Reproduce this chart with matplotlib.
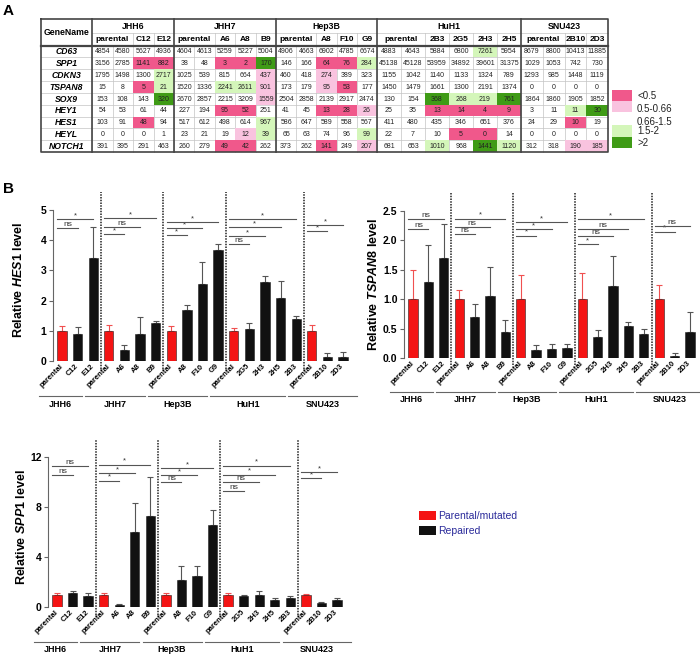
import matplotlib.pyplot as plt
import matplotlib.transforms as mtransforms
from matplotlib.patches import Rectangle, Patch
import numpy as np

plt.rcParams['font.family'] = ['Liberation Sans', 'DejaVu Sans']
plt.rcParams['mathtext.fontset'] = 'custom'
plt.rcParams['mathtext.it'] = 'Liberation Sans:italic:bold'
plt.rcParams['mathtext.rm'] = 'Liberation Sans:bold'

W, H = 700, 655

# ---------------- panel A: RNA-seq counts table ----------------
groups = ['JHH6', 'JHH7', 'Hep3B', 'HuH1', 'SNU423']
group_clones = [['parental', 'parental', 'C12', 'E12'],
                ['parental', 'parental', 'A6', 'A8', 'B9'],
                ['parental', 'parental', 'A8', 'F10', 'G9'],
                ['parental', 'parental', '2B3', '2G5', '2H3', '2H5'],
                ['parental', 'parental', '2B10', '2D3']]
genes = ['CD63', 'SPP1', 'CDKN3', 'TSPAN8', 'SOX9', 'HEY1', 'HES1', 'HEYL', 'NOTCH1']

cd63 = [4854, 4580, 5627, 4936, 4604, 4613, 5259, 5227, 5004, 4906, 4663, 6902, 4785, 6674,
        4883, 4643, 5884, 6800, 7261, 5954, 8679, 8800, 10413, 11885]
spp1 = [3156, 2785, 1141, 882, 38, 48, 3, 2, 170, 146, 166, 64, 76, 284,
        45138, 45128, 53959, 34892, 39601, 31375, 1029, 1053, 742, 730]
cdkn3 = [1795, 1498, 1300, 2717, 1025, 539, 815, 664, 437, 460, 418, 274, 389, 323,
         1155, 1042, 1140, 1133, 1324, 789, 1293, 985, 1448, 1119]
tspan8 = [15, 8, 5, 21, 1520, 1336, 2241, 2611, 901, 173, 179, 95, 53, 177,
          1450, 1479, 1661, 1300, 2191, 1374, 0, 0, 0, 0]
sox9 = [153, 108, 143, 320, 2670, 2857, 2215, 3209, 1559, 2504, 2858, 2139, 2917, 2474,
        130, 154, 368, 268, 219, 761, 1864, 1860, 1905, 1852]
hey1 = [54, 53, 61, 44, 227, 194, 95, 52, 251, 41, 45, 13, 28, 26,
        25, 35, 13, 14, 4, 9, 3, 11, 11, 30]
hes1 = [103, 91, 48, 94, 517, 612, 498, 614, 967, 586, 647, 589, 558, 567,
        411, 480, 435, 346, 651, 376, 24, 29, 10, 19]
heyl = [0, 0, 0, 1, 23, 21, 19, 12, 39, 65, 63, 74, 96, 99,
        22, 7, 10, 5, 0, 14, 0, 0, 0, 0]
notch1 = [391, 395, 291, 463, 260, 279, 49, 42, 262, 373, 262, 141, 249, 207,
          681, 653, 1010, 968, 1441, 1120, 312, 318, 190, 185]
counts = [cd63, spp1, cdkn3, tspan8, sox9, hey1, hes1, heyl, notch1]

# fold-change class per cell: a <0.5, b 0.5-0.66, . 0.66-1.5, c 1.5-2, d >2
fc_class = ['....' '.....' '.....' '....c.' '....',
            '..aa' '..aad' '..aac' '......' '....',
            '...c' '....b' '..b..' '......' '....',
            '..ac' '..ccb' '..ba.' '......' '....',
            '...d' '....b' '.....' '..dccd' '....',
            '....' '..aa.' '..aab' '..aaaa' '..cd',
            '..a.' '....c' '.....' '......' '..a.',
            '....' '...bc' '....c' '...aa.' '....',
            '....' '..aa.' '..a.b' '..c.dc' '..bb']
fc_labels = ['<0.5', '0.5-0.66', '0.66-1.5', '1.5-2', '>2']
fc_keys = ['a', 'b', '.', 'c', 'd']
fc_colors = {'a': '#f0588b', 'b': '#f9c3df', '.': '#ffffff', 'c': '#d4f6ba', 'd': '#3f9b16'}

# ---------------- panel B: qPCR ----------------
tick_labels = ['parental', 'C12', 'E12', 'parental', 'A6', 'A8', 'B9',
               'parental', 'A8', 'F10', 'G9', 'parental', '2G5', '2H3', '2H5', '2B3',
               'parental', '2B10', '2D3']
group_sizes = [3, 4, 4, 5, 3]

hes1_mean = [1.0, 0.88, 3.42, 1.0, 0.38, 0.9, 1.27, 1.0, 1.7, 2.55, 3.68,
             1.0, 1.05, 2.6, 2.1, 1.4, 1.0, 0.12, 0.14]
hes1_err = [0.16, 0.25, 1.02, 0.19, 0.14, 0.55, 0.07, 0.17, 0.17, 0.72, 0.19,
            0.1, 0.22, 0.23, 0.55, 0.1, 0.19, 0.14, 0.15]
hes1_sig = [(0, 1, 4.4, 'ns'), (0, 2, 4.7, '*'),
            (3, 4, 4.2, '*'), (3, 5, 4.45, 'ns'), (3, 6, 4.73, '*'),
            (7, 8, 4.17, '*'), (7, 9, 4.4, '*'), (7, 10, 4.6, '*'),
            (11, 12, 3.87, 'ns'), (11, 13, 4.14, '*'), (11, 14, 4.43, '*'), (11, 15, 4.7, '*'),
            (16, 17, 4.3, '*'), (16, 18, 4.5, '*')]

tspan8_mean = [1.0, 1.29, 1.7, 1.0, 0.69, 1.06, 0.45, 1.0, 0.13, 0.16, 0.17,
               1.0, 0.36, 1.23, 0.55, 0.41, 1.0, 0.04, 0.44]
tspan8_err = [0.5, 0.64, 0.58, 0.16, 0.23, 0.49, 0.2, 0.41, 0.09, 0.08, 0.07,
              0.44, 0.12, 0.5, 0.07, 0.09, 0.24, 0.05, 0.35]
tspan8_sig = [(0, 1, 2.19, 'ns'), (0, 2, 2.36, 'ns'),
              (3, 4, 2.11, 'ns'), (3, 5, 2.23, 'ns'), (3, 6, 2.37, '*'),
              (7, 8, 2.08, '*'), (7, 9, 2.19, '*'), (7, 10, 2.31, '*'),
              (11, 12, 1.94, '*'), (11, 13, 2.08, 'ns'), (11, 14, 2.2, 'ns'), (11, 15, 2.36, '*'),
              (16, 17, 2.15, '*'), (16, 18, 2.25, 'ns')]

spp1_mean = [1.0, 1.1, 0.85, 1.0, 0.15, 6.0, 7.25, 1.0, 2.15, 2.45, 6.55,
             1.0, 0.9, 1.0, 0.6, 0.75, 1.0, 0.3, 0.6]
spp1_err = [0.15, 0.2, 0.25, 0.15, 0.1, 2.35, 3.15, 0.15, 1.1, 0.8, 1.25,
            0.15, 0.05, 0.3, 0.15, 0.15, 0.07, 0.1, 0.12]
spp1_sig = [(0, 1, 10.55, 'ns'), (0, 2, 11.3, 'ns'),
            (3, 4, 10.1, '*'), (3, 5, 10.7, '*'), (3, 6, 11.4, '*'),
            (7, 8, 10.0, 'ns'), (7, 9, 10.55, '*'), (7, 10, 11.1, '*'),
            (11, 12, 9.3, 'ns'), (11, 13, 10.0, 'ns'), (11, 14, 10.6, '*'), (11, 15, 11.3, '*'),
            (16, 17, 10.3, '*'), (16, 18, 10.8, '*')]

legend_labels = ['Parental/mutated', 'Repaired']
RED = '#f41414'
BLACK = '#111111'


def px_axes(fig, left, top, right, bottom):
    return fig.add_axes([left / W, 1 - bottom / H, (right - left) / W, (bottom - top) / H])


def draw_table(ax):
    left, gene_right = 41, 92
    group_edges = [92, 174, 276, 377, 521, 608]
    top, hdr1, hdr2, bottom = 19, 33, 45.5, 152
    row_h = (bottom - hdr2) / len(genes)

    col_edges = []
    for g, clones in enumerate(group_clones):
        x0, x1 = group_edges[g], group_edges[g + 1]
        n = len(clones)
        for k in range(n):
            col_edges.append((x0 + (x1 - x0) * k / n, x0 + (x1 - x0) * (k + 1) / n))

    thin = dict(color='#c4c4c4', lw=0.5, zorder=1)
    # thin grid
    for r in range(1, len(genes)):
        y = hdr2 + r * row_h
        ax.plot([left, group_edges[-1]], [y, y], **thin)
    ax.plot([gene_right, group_edges[-1]], [hdr1, hdr1], **thin)
    for c, (x0, x1) in enumerate(col_edges):
        ax.plot([x0, x0], [hdr2, bottom], **thin)
    c = 0
    for g, clones in enumerate(group_clones):
        for k in range(len(clones)):
            if k > 1:
                x0 = col_edges[c + k][0]
                ax.plot([x0, x0], [hdr1, hdr2], **thin)
        c += len(clones)

    # coloured cells and numbers
    for r, gene in enumerate(genes):
        y0 = hdr2 + r * row_h
        for c, (x0, x1) in enumerate(col_edges):
            key = fc_class[r][c]
            if key != '.':
                ax.add_patch(Rectangle((x0, y0), x1 - x0, row_h, facecolor=fc_colors[key],
                                       edgecolor='none', zorder=2))
            ax.text((x0 + x1) / 2, y0 + row_h / 2 + 0.3, str(counts[r][c]), ha='center',
                    va='center', fontsize=5, color='#222222', zorder=4)
        ax.text((left + gene_right) / 2, y0 + row_h / 2 + 0.3, gene, ha='center', va='center',
                fontsize=6.2, fontweight='bold', fontstyle='italic', zorder=4)

    # headers
    ax.text((left + gene_right) / 2, (top + hdr2) / 2, 'GeneName', ha='center', va='center',
            fontsize=6.3, fontweight='bold', zorder=4)
    c = 0
    for g, clones in enumerate(group_clones):
        ax.text((group_edges[g] + group_edges[g + 1]) / 2, (top + hdr1) / 2 + 0.5, groups[g],
                ha='center', va='center', fontsize=6.3, fontweight='bold', zorder=4)
        ax.text((col_edges[c][0] + col_edges[c + 1][1]) / 2, (hdr1 + hdr2) / 2 + 0.3, 'parental',
                ha='center', va='center', fontsize=6, fontweight='bold', zorder=4)
        for k in range(2, len(clones)):
            x0, x1 = col_edges[c + k]
            ax.text((x0 + x1) / 2, (hdr1 + hdr2) / 2 + 0.3, clones[k], ha='center', va='center',
                    fontsize=6, fontweight='bold', zorder=4)
        c += len(clones)

    # thick lines
    thick = dict(color='#444444', lw=1.2, zorder=3, solid_capstyle='projecting')
    ax.plot([left, group_edges[-1], group_edges[-1], left, left],
            [top, top, bottom, bottom, top], **thick)
    for x in group_edges[:-1]:
        ax.plot([x, x], [top, bottom], **thick)
    ax.plot([left, group_edges[-1]], [hdr2, hdr2], color='#444444', lw=1.6, zorder=3)

    # fold-change legend
    box_y = [90, 100.5, 112, 124.5, 136.5, 148]
    text_y = [96, 109, 122, 131.5, 143]
    for i, key in enumerate(fc_keys):
        ax.add_patch(Rectangle((612, box_y[i]), 20, box_y[i + 1] - box_y[i],
                               facecolor=fc_colors[key], edgecolor='none'))
        ax.text(637, text_y[i], fc_labels[i], ha='left', va='center', fontsize=7, color='#222222')


def bar_panel(ax, means, errs, sig, yticks, ylabel, fmt, label_xy):
    x = np.arange(len(tick_labels))
    is_par = [t == 'parental' for t in tick_labels]
    colors = [RED if p else BLACK for p in is_par]
    ax.bar(x, means, width=0.6, color=colors, edgecolor='#222222', linewidth=0.4, zorder=2)
    for i in x:
        ax.errorbar(x[i], means[i], yerr=[[0], [errs[i]]], fmt='none',
                    ecolor='#f05050' if is_par[i] else '#555555',
                    elinewidth=0.8, capsize=2.3, capthick=0.8, zorder=1)

    ax.set_xlim(-0.6, 18.6)
    ax.set_ylim(0, yticks[-1])
    ax.set_yticks(yticks)
    ax.set_yticklabels([fmt.format(v) for v in yticks], fontweight='bold')
    ax.set_xticks(x)
    ax.set_xticklabels(tick_labels, rotation=45, ha='right', va='center',
                       rotation_mode='anchor', fontsize=5.5, fontweight='bold')
    for s in ['top', 'right', 'bottom']:
        ax.spines[s].set_visible(False)
    ax.spines['left'].set_color('#666666')
    ax.spines['left'].set_linewidth(0.8)
    ax.tick_params(axis='y', length=3, width=0.8, color='#666666', labelsize=7.5, pad=1.5)
    ax.tick_params(axis='x', length=0, pad=3)
    ax.set_ylabel(ylabel, fontsize=9, fontweight='bold')
    ax.yaxis.set_label_coords(*label_xy)

    trans = mtransforms.blended_transform_factory(ax.transData, ax.transAxes)
    # group separators
    bounds = np.cumsum(group_sizes)[:-1] - 0.5
    for b in bounds:
        ax.plot([b, b], [-0.05, 1.12], transform=trans, clip_on=False, color='#222222',
                lw=1.1, ls=(0, (1, 0.8)), zorder=3)
    # group labels under the axis
    first = 0
    for g, n in enumerate(group_sizes):
        last = first + n - 1
        x0 = first - 1.5
        x1 = last - 0.7 if g < len(group_sizes) - 1 else last + 0.9
        ax.plot([x0, x1], [-0.23, -0.23], transform=trans, clip_on=False, color='#666666', lw=0.8)
        ax.text((x0 + x1) / 2, -0.285, groups[g], transform=trans, ha='center', va='center',
                fontsize=6.5, fontweight='bold')
        first += n
    # significance lines
    for i0, i1, y, txt in sig:
        ax.plot([i0 - 0.3, i1], [y, y], color='#555555', lw=0.8, clip_on=False, zorder=3)
        ax.text((i0 - 0.3 + i1) / 2, y, txt, ha='center', va='bottom',
                fontsize=6 if txt == 'ns' else 5.5, color='#333333', clip_on=False)


fig = plt.figure(figsize=(W / 100, H / 100), dpi=100)
ax0 = fig.add_axes([0, 0, 1, 1])
ax0.set_xlim(0, W)
ax0.set_ylim(H, 0)
ax0.axis('off')
draw_table(ax0)
ax0.text(3, 4, 'A', ha='left', va='top', fontsize=11, fontweight='bold')
ax0.text(3, 182, 'B', ha='left', va='top', fontsize=11, fontweight='bold')

ax1 = px_axes(fig, 52.6, 210, 352.4, 361)
bar_panel(ax1, hes1_mean, hes1_err, hes1_sig, [0, 1, 2, 3, 4, 5],
          r'Relative $\mathit{HES1}$ level', '{:g}', (-0.092, 0.54))

ax2 = px_axes(fig, 403.8, 211, 699.2, 358)
bar_panel(ax2, tspan8_mean, tspan8_err, tspan8_sig, [0, 0.5, 1.0, 1.5, 2.0, 2.5],
          r'Relative $\mathit{TSPAN8}$ level', '{:.1f}', (-0.08, 0.5))

ax3 = px_axes(fig, 47.7, 457, 346.3, 607)
bar_panel(ax3, spp1_mean, spp1_err, spp1_sig, [0, 4, 8, 12],
          r'Relative $\mathit{SPP1}$ level', '{:g}', (-0.066, 0.53))

handles = [Patch(facecolor=RED, edgecolor='none'), Patch(facecolor=BLACK, edgecolor='none')]
ax3.legend(handles, legend_labels, loc='upper left', bbox_to_anchor=(419 / W, 1 - 511 / H),
           bbox_transform=fig.transFigure, frameon=False, fontsize=7.5, labelcolor='#2a2a9a',
           handlelength=1.6, handleheight=1.0, handletextpad=0.25, labelspacing=0.45,
           borderpad=0, borderaxespad=0)

fig.savefig('out.png', dpi=100)
